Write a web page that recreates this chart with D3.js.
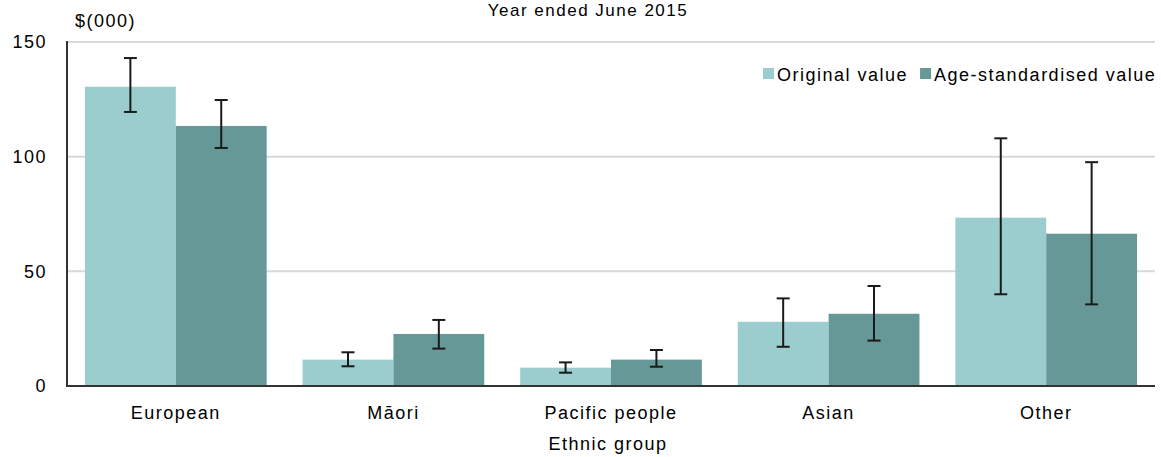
<!DOCTYPE html>
<html>
<head>
<meta charset="utf-8">
<script src="https://cdn.jsdelivr.net/npm/d3@7"></script>
<style>
  body { margin: 0; background: #fff; }
  svg text { font-family: "Liberation Sans", Arial, sans-serif; fill: #000; letter-spacing: 1.5px; }
</style>
</head>
<body>
<svg class="chart" width="1161" height="457"></svg>
<script>
var categories = ['European', 'M\u0101ori', 'Pacific people', 'Asian', 'Other'];
var seriesNames = ['Original value', 'Age-standardised value'];
var originalValue = [130.5, 11.5, 8, 28, 73.4];
var originalLow = [119.5, 8.6, 5.8, 17.1, 40];
var originalHigh = [143, 14.7, 10.3, 38.2, 108];
var ageStdValue = [113.4, 22.7, 11.5, 31.5, 66.4];
var ageStdLow = [103.8, 16.3, 8.4, 19.8, 35.6];
var ageStdHigh = [124.7, 28.8, 15.7, 43.6, 97.6];
var yTicks = [0, 50, 100, 150];

(function() {
    var p = {};
        p.left = 67;
        p.right = 1155;
        p.top = 42;
        p.bottom = 386;
        p.colors = ['#9bcdce', '#669898'];
        p.fontSize = 18;

    var data = categories.map(function(c, i) {
        return {
            cat: c,
            vals: [
                {s: 0, v: originalValue[i], lo: originalLow[i], hi: originalHigh[i]},
                {s: 1, v: ageStdValue[i], lo: ageStdLow[i], hi: ageStdHigh[i]}
            ]
        };
    });

    var svg = d3.select('.chart');

    //-----  Scales  -----//
    var x = d3.scaleBand()
        .domain(categories)
        .range([p.left, p.right])
        .paddingInner(0.165)
        .paddingOuter(0.0825);
    var xs = d3.scaleBand()
        .domain([0, 1])
        .range([0, x.bandwidth()]);
    var y = d3.scaleLinear()
        .domain([0, 150])
        .range([p.bottom, p.top]);

    //-----  Title  -----//
    svg.append('text')
        .text('Year ended June 2015')
        .attr('x', 588)
        .attr('y', 16)
        .attr('text-anchor', 'middle')
        .attr('font-size', 17);

    svg.append('text')
        .text('$(000)')
        .attr('x', 75)
        .attr('y', 27)
        .attr('font-size', p.fontSize);

    //-----  Grid + Y axis  -----//
    svg.append('g')
        .attr('class', 'grid')
        .selectAll('line')
        .data(yTicks.filter(function(t) { return t > 0; }))
        .enter().append('line')
            .attr('x1', p.left)
            .attr('x2', p.right)
            .attr('y1', function(d) { return y(d); })
            .attr('y2', function(d) { return y(d); })
            .attr('stroke', '#d9d9d9')
            .attr('stroke-width', 2);

    var yAxis = svg.append('g')
        .attr('transform', 'translate(' + p.left + ',0)')
        .call(d3.axisLeft(y).tickValues(yTicks).tickSize(0).tickPadding(20));
    yAxis.select('.domain').remove();
    yAxis.selectAll('.tick text')
        .attr('font-size', p.fontSize)
        .attr('font-family', null)
        .attr('fill', '#000');

    //-----  Bars  -----//
    var groups = svg.selectAll('g.group')
        .data(data)
        .enter().append('g')
            .attr('class', 'group')
            .attr('transform', function(d) { return 'translate(' + x(d.cat) + ',0)'; });
    groups.selectAll('rect')
        .data(function(d) { return d.vals; })
        .enter().append('rect')
            .attr('x', function(d) { return xs(d.s); })
            .attr('width', xs.bandwidth())
            .attr('y', function(d) { return y(d.v); })
            .attr('height', function(d) { return p.bottom - y(d.v); })
            .attr('fill', function(d) { return p.colors[d.s]; });

    //-----  Error bars  -----//
    var err = groups.selectAll('g.err')
        .data(function(d) { return d.vals; })
        .enter().append('g')
            .attr('class', 'err')
            .attr('stroke', '#1a1a1a')
            .attr('stroke-width', 2);
    var cx = function(d) { return xs(d.s) + xs.bandwidth() / 2; };
    err.append('line')
        .attr('x1', cx).attr('x2', cx)
        .attr('y1', function(d) { return y(d.hi); })
        .attr('y2', function(d) { return y(d.lo); });
    ['hi', 'lo'].forEach(function(k) {
        err.append('line')
            .attr('x1', function(d) { return cx(d) - 6.5; })
            .attr('x2', function(d) { return cx(d) + 6.5; })
            .attr('y1', function(d) { return y(d[k]); })
            .attr('y2', function(d) { return y(d[k]); });
    });

    //-----  Axis lines  -----//
    svg.append('line')
        .attr('x1', p.left).attr('x2', p.left)
        .attr('y1', p.top - 1).attr('y2', p.bottom)
        .attr('stroke', '#333').attr('stroke-width', 2);
    svg.append('line')
        .attr('x1', p.left - 1).attr('x2', p.right)
        .attr('y1', p.bottom).attr('y2', p.bottom)
        .attr('stroke', '#333').attr('stroke-width', 2);

    //-----  X labels  -----//
    svg.selectAll('text.cat')
        .data(categories)
        .enter().append('text')
            .attr('class', 'cat')
            .text(function(d) { return d; })
            .attr('x', function(d) { return x(d) + x.bandwidth() / 2; })
            .attr('y', 419)
            .attr('text-anchor', 'middle')
            .attr('font-size', p.fontSize);
    svg.append('text')
        .text('Ethnic group')
        .attr('x', 608)
        .attr('y', 450)
        .attr('text-anchor', 'middle')
        .attr('font-size', p.fontSize);

    //-----  Legend  -----//
    var legend = svg.append('g')
        .attr('transform', 'translate(763,0)');
    var lx = 0;
    for (var n = 0; n < seriesNames.length; n++) {
        legend.append('rect')
            .attr('x', lx)
            .attr('y', 68)
            .attr('width', 11)
            .attr('height', 11)
            .attr('fill', p.colors[n]);
        var t = legend.append('text')
            .text(seriesNames[n])
            .attr('x', lx + 14)
            .attr('y', 81)
            .attr('font-size', p.fontSize);
        lx += 14 + t.node().getComputedTextLength() + 12;
    }
})();
</script>
</body>
</html>
